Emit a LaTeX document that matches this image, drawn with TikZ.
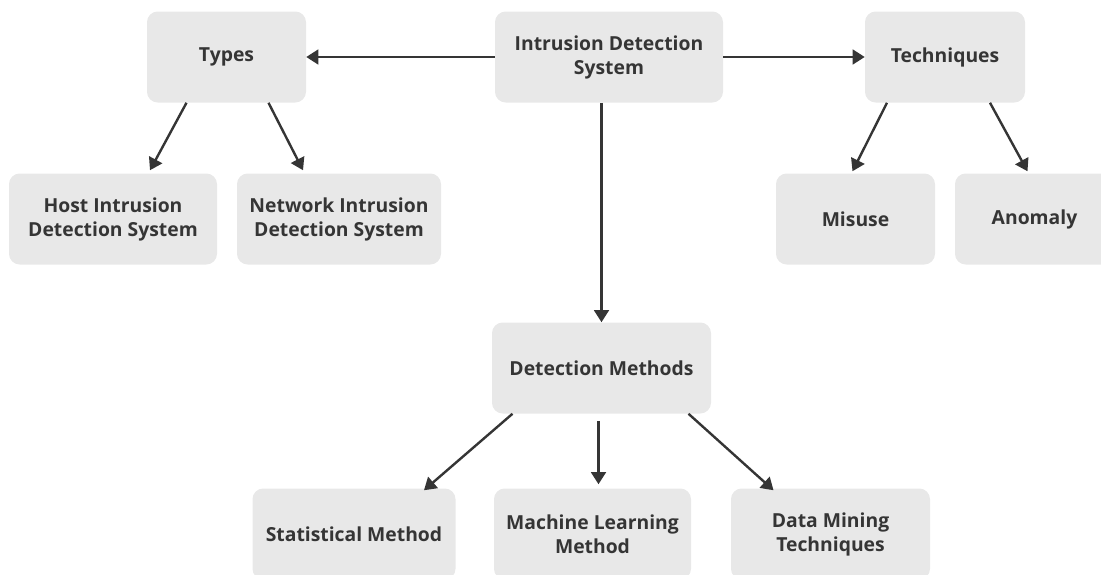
\documentclass[tikz,border=0pt]{standalone}
\usepackage{fontspec}
\setmainfont{Open Sans}
\usetikzlibrary{arrows.meta,calc}
\definecolor{boxgray}{HTML}{E8E8E8}
\definecolor{inkgray}{HTML}{353535}
\tikzset{
  box/.style={fill=boxgray,rounded corners=8pt,minimum height=68.25pt,
    align=center,text=inkgray,font=\fontsize{14.5}{18}\selectfont\bfseries,
    inner sep=0pt},
  link/.style={draw=inkgray,line width=1.8pt,
    -{Triangle[length=9pt,width=11pt]}}
}
\begin{document}
\begin{tikzpicture}[x=0.75pt,y=-0.75pt]
  \useasboundingbox (0,0) rectangle (1101,575);
  % top row
  \node[box,minimum width=119.25pt] (types) at (226.5,57) {Types};
  \node[box,minimum width=171pt] (ids) at (609,57) {Intrusion Detection\\System};
  \node[box,minimum width=120pt] (tech) at (945,57) {Techniques};
  % second row
  \node[box,minimum width=156pt] (host) at (113,219) {Host Intrusion\\Detection System};
  \node[box,minimum width=153pt] (net) at (339,219) {Network Intrusion\\Detection System};
  \node[box,minimum width=119.25pt] (misuse) at (855.5,219) {Misuse};
  \node[box,minimum width=119.25pt] (anomaly) at (1034.5,219) {Anomaly};
  % methods
  \node[box,minimum width=164.25pt] (det) at (601.5,368) {Detection Methods};
  \node[box,minimum width=152.25pt] (stat) at (354,534) {Statistical Method};
  \node[box,minimum width=147.75pt] (ml) at (592.5,534) {Machine Learning\\Method};
  \node[box,minimum width=149.25pt] (dm) at (830.5,534) {Data Mining\\Techniques};
  % connectors
  \draw[link] (ids.west) -- (types.east);
  \draw[link] (ids.east) -- (tech.west);
  \draw[link] (ids.south -| det) -- (det.north);
  \draw[link] ($(types.south)+(-40,0)$) -- ($(host.north)+(37,-3)$);
  \draw[link] ($(types.south)+(42,0)$) -- ($(net.north)+(-36,-3)$);
  \draw[link] ($(tech.south)+(-58,0)$) -- ($(misuse.north)+(-3,-2)$);
  \draw[link] ($(tech.south)+(45,0)$) -- ($(anomaly.north)+(-7,-2)$);
  \draw[link] ($(det.south)+(-89,0)$) -- ($(stat.north)+(70,2)$);
  \draw[link] ($(det.south)+(-3,7)$) -- ($(ml.north)+(6,-4)$);
  \draw[link] ($(det.south)+(87,0)$) -- ($(dm.north)+(-57,2)$);
\end{tikzpicture}
\end{document}
